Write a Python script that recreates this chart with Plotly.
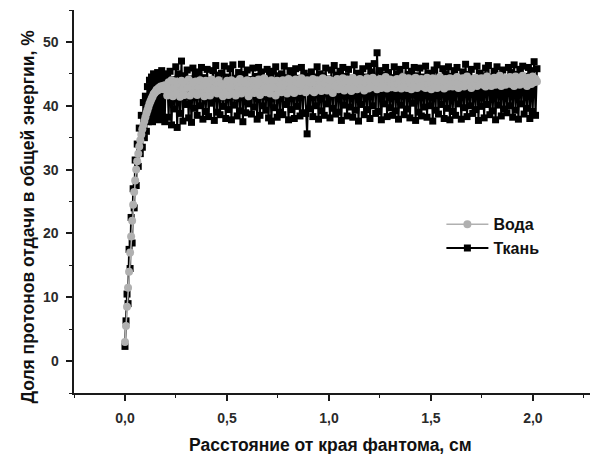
import plotly.graph_objects as go

# ---- data ----
# rise region sampled every 0.005 cm, plateau every 0.007 cm
x_rise = [round(i * 0.005, 3) for i in range(41)]
x_plat = [round(0.207 + i * 0.007, 3) for i in range(260)]

voda_rise = [3.0, 5.5, 8.5, 11.5, 14.0, 17.0, 19.5, 22.0, 24.5, 26.5,
             28.3, 30.0, 31.3, 32.5, 33.6, 34.6, 35.5, 36.3, 37.0, 37.6,
             38.2, 38.8, 39.3, 39.8, 40.3, 40.7, 41.1, 41.4, 41.8, 42.0,
             42.2, 42.5, 42.4, 42.8, 42.6, 43.0, 42.7, 43.1, 42.6, 43.2, 42.8]

tkan_rise = [2.3, 6.3, 10.5, 9.0, 17.5, 14.5, 22.5, 18.5, 27.0, 24.0,
             31.5, 27.5, 34.0, 30.5, 36.5, 32.5, 38.5, 33.5, 40.5, 35.0,
             41.5, 36.0, 43.0, 37.5, 44.0, 38.0, 44.5, 37.5, 45.0, 38.5,
             44.8, 38.0, 45.2, 37.8, 44.5, 39.0, 45.5, 38.2, 44.8, 37.5, 45.0]

voda_plat = [
    41.6, 43.7, 42.2, 44.0, 41.5, 42.9, 43.8, 41.9, 43.4, 41.4, 43.9, 42.6, 41.7, 43.5, 42.8, 44.1, 41.6, 42.9, 43.7, 42.0,
    43.8, 41.7, 42.9, 44.0, 42.0, 43.2, 41.5, 43.9, 42.6, 43.5, 41.6, 44.1, 42.2, 42.8, 43.7, 41.9, 44.0, 42.4, 43.4, 41.5,
    43.2, 42.1, 43.9, 41.7, 42.9, 44.0, 42.0, 43.5, 41.6, 43.8, 42.7, 44.2, 41.9, 42.9, 43.7, 42.4, 44.0, 41.5, 43.4, 42.5,
    43.9, 42.0, 43.2, 42.7, 44.1, 41.7, 43.6, 42.5, 44.3, 42.1, 42.9, 43.8, 41.9, 44.0, 42.8, 43.4, 41.6, 43.9, 42.7, 43.5,
    42.1, 44.0, 42.9, 43.7, 41.9, 44.2, 42.5, 43.2, 43.9, 42.0, 44.1, 42.8, 43.5, 42.3, 44.3, 42.7, 43.4, 42.1, 44.0, 42.9,
    43.7, 42.4, 44.2, 42.1, 43.4, 44.0, 42.6, 43.8, 42.3, 44.3, 42.8, 43.5, 42.4, 44.1, 42.9, 43.9, 42.0, 43.7, 43.0, 44.2,
    42.6, 43.9, 42.9, 44.3, 42.4, 43.7, 44.1, 42.8, 43.8, 42.3, 44.4, 43.0, 44.0, 42.6, 43.5, 44.2, 42.9, 43.9, 42.4, 43.7,
    44.3, 42.7, 43.8, 42.9, 44.4, 43.2, 44.0, 42.6, 43.7, 44.2, 42.8, 43.9, 43.0, 44.5, 42.7, 43.8, 44.1, 42.9, 43.5, 44.0,
    42.8, 44.2, 43.4, 43.9, 42.7, 44.5, 43.0, 44.0, 42.8, 44.3, 43.6, 42.6, 44.1, 43.2, 44.4, 42.8, 43.9, 43.4, 44.2, 43.0,
    44.0, 42.8, 44.4, 43.4, 43.9, 42.6, 44.3, 43.2, 44.1, 42.8, 43.8, 44.5, 43.0, 44.0, 42.7, 44.2, 43.6, 43.0, 44.3, 43.4,
    43.0, 44.2, 43.6, 44.5, 42.8, 44.0, 43.4, 44.3, 43.0, 44.1, 44.6, 43.2, 43.9, 42.8, 44.2, 43.7, 44.4, 43.1, 44.0, 43.5,
    44.3, 43.3, 44.1, 43.0, 44.6, 43.6, 44.2, 43.1, 44.0, 44.4, 43.3, 44.3, 43.5, 44.7, 43.1, 44.0, 44.3, 43.3, 44.1, 43.6,
    44.5, 43.4, 44.2, 43.1, 44.6, 43.7, 44.3, 43.3, 44.1, 44.7, 43.5, 44.2, 43.1, 44.4, 43.9, 43.4, 44.6, 43.7, 44.2, 43.8,
]

tkan_plat = [
    44.6, 38.2, 45.4, 37.0, 44.1, 39.5, 46.1, 36.6, 45.0, 38.8, 47.0, 37.6, 44.7, 40.2, 45.6, 38.1, 44.2, 37.4, 45.9, 39.6,
    44.9, 38.5, 45.3, 40.0, 46.0, 37.9, 44.4, 39.1, 45.7, 38.3, 44.0, 40.4, 45.5, 37.7, 46.3, 39.0, 44.8, 38.6, 45.1, 39.9,
    46.2, 38.0, 44.5, 39.4, 45.8, 37.8, 46.4, 40.1, 44.3, 38.4, 45.2, 39.2, 46.5, 37.5, 44.9, 38.9, 45.6, 40.3, 44.1, 38.7,
    45.9, 39.8, 44.6, 37.9, 46.0, 38.5, 45.3, 40.0, 44.2, 39.3, 45.7, 38.1, 44.8, 37.6, 45.4, 39.7, 46.1, 38.2, 44.7, 39.0,
    45.0, 38.6, 46.2, 40.2, 44.4, 37.8, 45.5, 39.4, 44.9, 38.0, 45.8, 39.9, 44.3, 38.4, 46.0, 38.9, 45.1, 38.8, 35.6, 44.6,
    39.5, 45.3, 38.3, 44.5, 40.0, 46.1, 37.9, 45.0, 39.2, 44.7, 38.5, 45.9, 40.3, 44.2, 38.1, 45.6, 39.6, 46.3, 38.7, 44.8,
    39.0, 45.4, 37.7, 46.0, 40.1, 44.6, 38.4, 45.7, 39.8, 44.3, 38.2, 46.4, 39.3, 45.1, 37.6, 44.9, 40.2, 45.8, 38.6, 44.5,
    39.4, 46.2, 38.0, 45.3, 40.0, 46.6, 38.8, 48.3, 39.1, 45.5, 37.8, 44.8, 40.3, 46.0, 38.3, 45.2, 39.7, 44.4, 38.5, 46.1,
    39.2, 45.0, 37.9, 45.7, 40.1, 44.6, 38.6, 46.3, 39.5, 44.9, 38.1, 45.4, 40.4, 46.0, 37.7, 44.7, 39.0, 45.9, 38.4, 44.5,
    39.8, 46.2, 38.2, 45.1, 40.0, 44.8, 37.6, 45.6, 39.3, 46.4, 38.7, 44.3, 40.2, 45.8, 38.0, 45.0, 39.6, 46.1, 37.8, 44.6,
    39.1, 45.5, 38.5, 46.0, 40.3, 44.4, 37.9, 45.3, 39.7, 46.5, 38.3, 44.9, 40.0, 45.7, 38.8, 44.2, 39.4, 46.2, 37.7, 45.1,
    39.9, 44.7, 38.1, 45.9, 40.2, 46.3, 38.6, 44.5, 39.2, 45.4, 37.8, 46.1, 40.1, 44.8, 38.4, 45.6, 39.5, 44.3, 38.9, 46.0,
    40.0, 45.2, 38.2, 46.4, 39.3, 44.9, 37.9, 45.7, 40.3, 46.2, 38.7, 44.6, 39.6, 46.0, 38.0, 45.5, 39.1, 46.9, 38.5, 45.8,
]

x_all = x_rise + x_plat
voda = voda_rise + voda_plat
tkan = tkan_rise + tkan_plat

x_tickvals = [0.0, 0.5, 1.0, 1.5, 2.0]
x_ticktext = ["0,0", "0,5", "1,0", "1,5", "2,0"]
y_tickvals = [0, 10, 20, 30, 40, 50]
y_ticktext = ["0", "10", "20", "30", "40", "50"]
x_minor = [-0.25, 0.25, 0.75, 1.25, 1.75, 2.25]
y_minor = [-5, 5, 15, 25, 35, 45, 55]

FONT = "Liberation Sans, Arial, sans-serif"
AX = "#1a1a1a"
TICKFONT = dict(family=FONT, size=14, color="#2a2a2a", weight="bold")

fig = go.Figure()
fig.add_trace(go.Scatter(
    x=x_all, y=tkan, name="Ткань", mode="lines+markers",
    line=dict(color="#000000", width=2),
    marker=dict(symbol="square", size=7, color="#000000"),
))
fig.add_trace(go.Scatter(
    x=x_all, y=voda, name="Вода", mode="lines+markers",
    line=dict(color="#b0b0b0", width=1.5),
    marker=dict(symbol="circle", size=8, color="#b0b0b0"),
))

axis_common = dict(
    showline=True, linecolor=AX, linewidth=1.5,
    ticks="outside", ticklen=6, tickwidth=1.5, tickcolor=AX,
    showgrid=False, zeroline=False, mirror=False,
    tickfont=TICKFONT,
)

# y tick labels placed on the y scale at a fixed distance left of the axis
L, PLOT_W = 74, 516
y_label_annots = [
    dict(text=t, xref="paper", yref="y", x=(61 - L) / PLOT_W, y=v,
         xanchor="right", yanchor="middle", showarrow=False, font=TICKFONT)
    for v, t in zip(y_tickvals, y_ticktext)
]

fig.update_layout(
    width=590, height=454,
    margin=dict(l=L, r=0, t=10, b=61),
    paper_bgcolor="white", plot_bgcolor="white",
    font=dict(family=FONT, color="#111111"),
    xaxis=dict(range=[-0.25, 2.28], tickvals=x_tickvals, ticktext=x_ticktext,
               ticklabelstandoff=5,
               minor=dict(ticks="outside", ticklen=3, tickwidth=1.2,
                          tickcolor=AX, tickvals=x_minor),
               **axis_common),
    yaxis=dict(range=[-5, 55], tickvals=y_tickvals, showticklabels=False,
               minor=dict(ticks="outside", ticklen=3, tickwidth=1.2,
                          tickcolor=AX, tickvals=y_minor),
               **axis_common),
    showlegend=True,
    legend=dict(x=0.712, y=0.485, xanchor="left", yanchor="top",
                traceorder="reversed", bgcolor="rgba(0,0,0,0)",
                font=dict(family=FONT, size=16, color="#111111", weight="bold"),
                tracegroupgap=0, itemsizing="trace", itemwidth=42),
    annotations=y_label_annots + [
        dict(text="<b>Расстояние от края фантома, см</b>", xref="paper", yref="paper",
             x=0.498, y=-0.135, xanchor="center", yanchor="middle", showarrow=False,
             font=dict(family=FONT, size=17.5, color="#111111")),
        dict(text="<b>Доля протонов отдачи в общей энергии, %</b>", xref="paper", yref="paper",
             x=-0.089, y=0.461, xanchor="center", yanchor="middle", showarrow=False,
             textangle=-90, font=dict(family=FONT, size=17.5, color="#111111")),
    ],
)

fig.write_html("out.html", config={"displayModeBar": False},
               post_script="document.body.style.margin='0px';")
